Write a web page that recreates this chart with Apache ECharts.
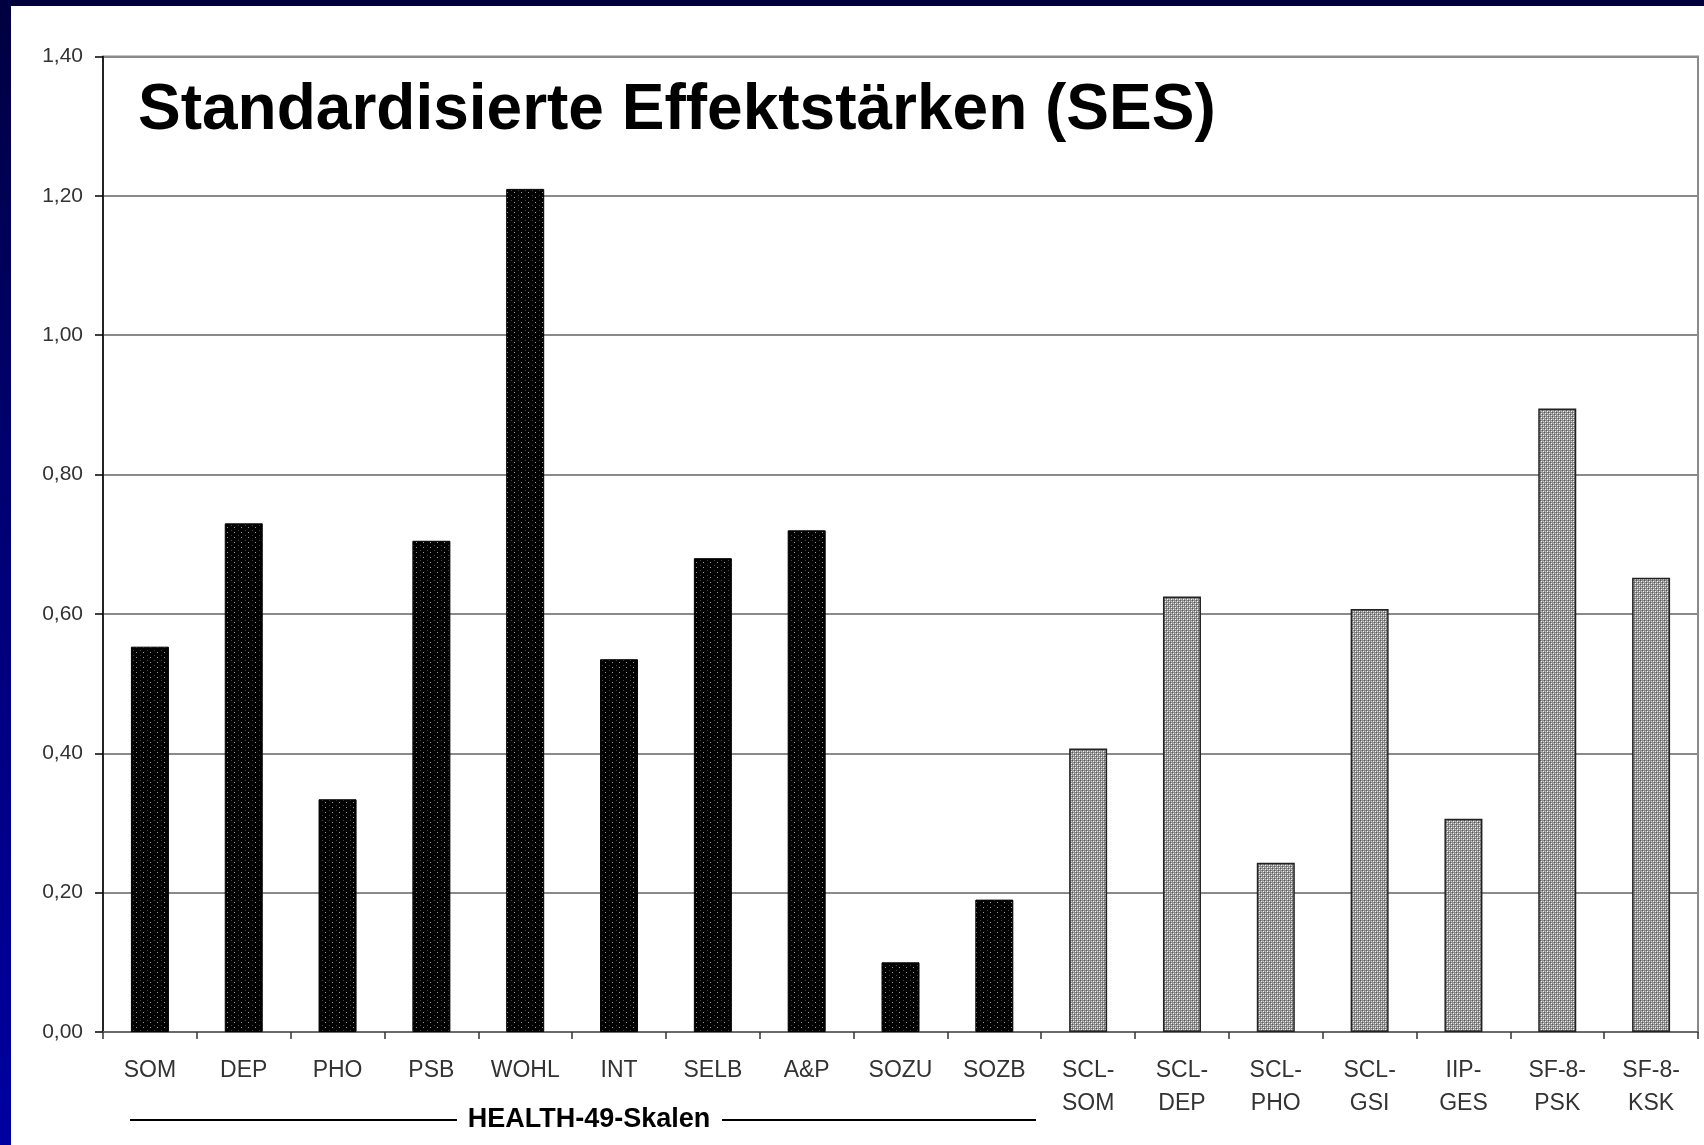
<!DOCTYPE html>
<html>
<head>
<meta charset="utf-8">
<script src="https://cdn.jsdelivr.net/npm/echarts@6/dist/echarts.min.js"></script>
<style>
html,body{margin:0;padding:0;background:#fff;}
#c{width:1704px;height:1145px;}
</style>
</head>
<body>
<div id="c"></div>
<script>
// ---- data ----
const categories = ['SOM','DEP','PHO','PSB','WOHL','INT','SELB','A&P','SOZU','SOZB',
  'SCL-\nSOM','SCL-\nDEP','SCL-\nPHO','SCL-\nGSI','IIP-\nGES','SF-8-\nPSK','SF-8-\nKSK'];
const healthValues = [0.553, 0.73, 0.334, 0.705, 1.21, 0.535, 0.68, 0.72, 0.10, 0.19];
const otherValues = [0.407, 0.625, 0.243, 0.607, 0.306, 0.895, 0.652];
const yTicks = [0, 0.2, 0.4, 0.6, 0.8, 1.0, 1.2, 1.4];
const titleText = 'Standardisierte Effektstärken (SES)';
const groupLabel = 'HEALTH-49-Skalen';

// ---- patterns ----
function makeDark(){
  const c = document.createElement('canvas'); c.width = 7; c.height = 5;
  const g = c.getContext('2d');
  g.fillStyle = '#000'; g.fillRect(0,0,7,5);
  g.fillStyle = '#9a9a9a'; g.fillRect(3,2,1,1);
  g.fillStyle = '#444'; g.fillRect(0,0,1,1);
  return c;
}
function makeLight(){
  const c = document.createElement('canvas'); c.width = 4; c.height = 4;
  const g = c.getContext('2d');
  g.fillStyle = '#8e8e8e'; g.fillRect(0,0,4,4);
  g.fillStyle = '#f4f4f4';
  g.fillRect(1,1,1,1); g.fillRect(3,3,1,1);
  g.fillStyle = '#c8c8c8';
  g.fillRect(1,3,1,1); g.fillRect(3,1,1,1);
  g.fillStyle = '#5a5a5a';
  g.fillRect(0,0,1,1); g.fillRect(2,2,1,1);
  return c;
}
const darkPat = {image: makeDark(), repeat: 'repeat'};
const lightPat = {image: makeLight(), repeat: 'repeat'};

const barData = healthValues.map(v => ({value: v, itemStyle: {color: darkPat, borderColor: '#000', borderWidth: 1}}))
  .concat(otherValues.map(v => ({value: v, itemStyle: {color: lightPat, borderColor: '#222', borderWidth: 1.5}})));

const chart = echarts.init(document.getElementById('c'), null, {renderer: 'canvas'});
chart.setOption({
  backgroundColor: '#fff',
  animation: false,
  grid: {left: 103, right: 6, top: 56.5, bottom: 113, show: true, borderColor: '#8a8a8a', borderWidth: 2, backgroundColor: 'transparent'},
  xAxis: {
    type: 'category', data: categories, boundaryGap: true,
    axisLine: {lineStyle: {color: '#6a6a6a', width: 2}},
    axisTick: {show: true, length: 7, lineStyle: {color: '#333', width: 1.5}},
    axisLabel: {interval: 0, color: '#333', fontSize: 23, lineHeight: 33, margin: 22,
      fontFamily: 'Liberation Sans, Arial, sans-serif'}
  },
  yAxis: {
    type: 'value', min: 0, max: 1.4, interval: 0.2,
    axisLine: {show: true, lineStyle: {color: '#000', width: 1.5}},
    axisTick: {show: true, length: 8, lineStyle: {color: '#000', width: 1.5}},
    axisLabel: {color: '#333', fontSize: 21, margin: 20, fontFamily: 'Liberation Sans, Arial, sans-serif',
      formatter: v => (yTicks.includes(Math.round(v*10)/10) ? v.toFixed(2).replace('.', ',') : '')},
    splitLine: {show: true, lineStyle: {color: '#8a8a8a', width: 2}}
  },
  series: [{
    type: 'bar', data: barData, barWidth: 38
  }],
  graphic: [
    {type: 'rect', left: 0, top: 0, shape: {width: 1704, height: 6}, style: {fill: '#000038'}, z: 100},
    {type: 'rect', left: 0, top: 0, shape: {width: 11, height: 1145},
      style: {fill: new echarts.graphic.LinearGradient(0,0,0,1,[{offset:0,color:'#000040'},{offset:0.4,color:'#000070'},{offset:1,color:'#0000a0'}])}, z: 100},
    {type: 'text', x: 138, y: 111, z: 50,
      style: {text: titleText, font: 'bold 64px "Liberation Sans", Arial, sans-serif', fill: '#000', verticalAlign: 'middle', align: 'left'}},
    {type: 'text', x: 589, y: 1120, z: 50,
      style: {text: groupLabel, font: 'bold 27px "Liberation Sans", Arial, sans-serif', fill: '#000', verticalAlign: 'middle', align: 'center'}},
    {type: 'line', z: 50, shape: {x1: 130, y1: 1120, x2: 457, y2: 1120}, style: {stroke: '#000', lineWidth: 2}},
    {type: 'line', z: 50, shape: {x1: 722, y1: 1120, x2: 1036, y2: 1120}, style: {stroke: '#000', lineWidth: 2}}
  ]
});
</script>
</body>
</html>
